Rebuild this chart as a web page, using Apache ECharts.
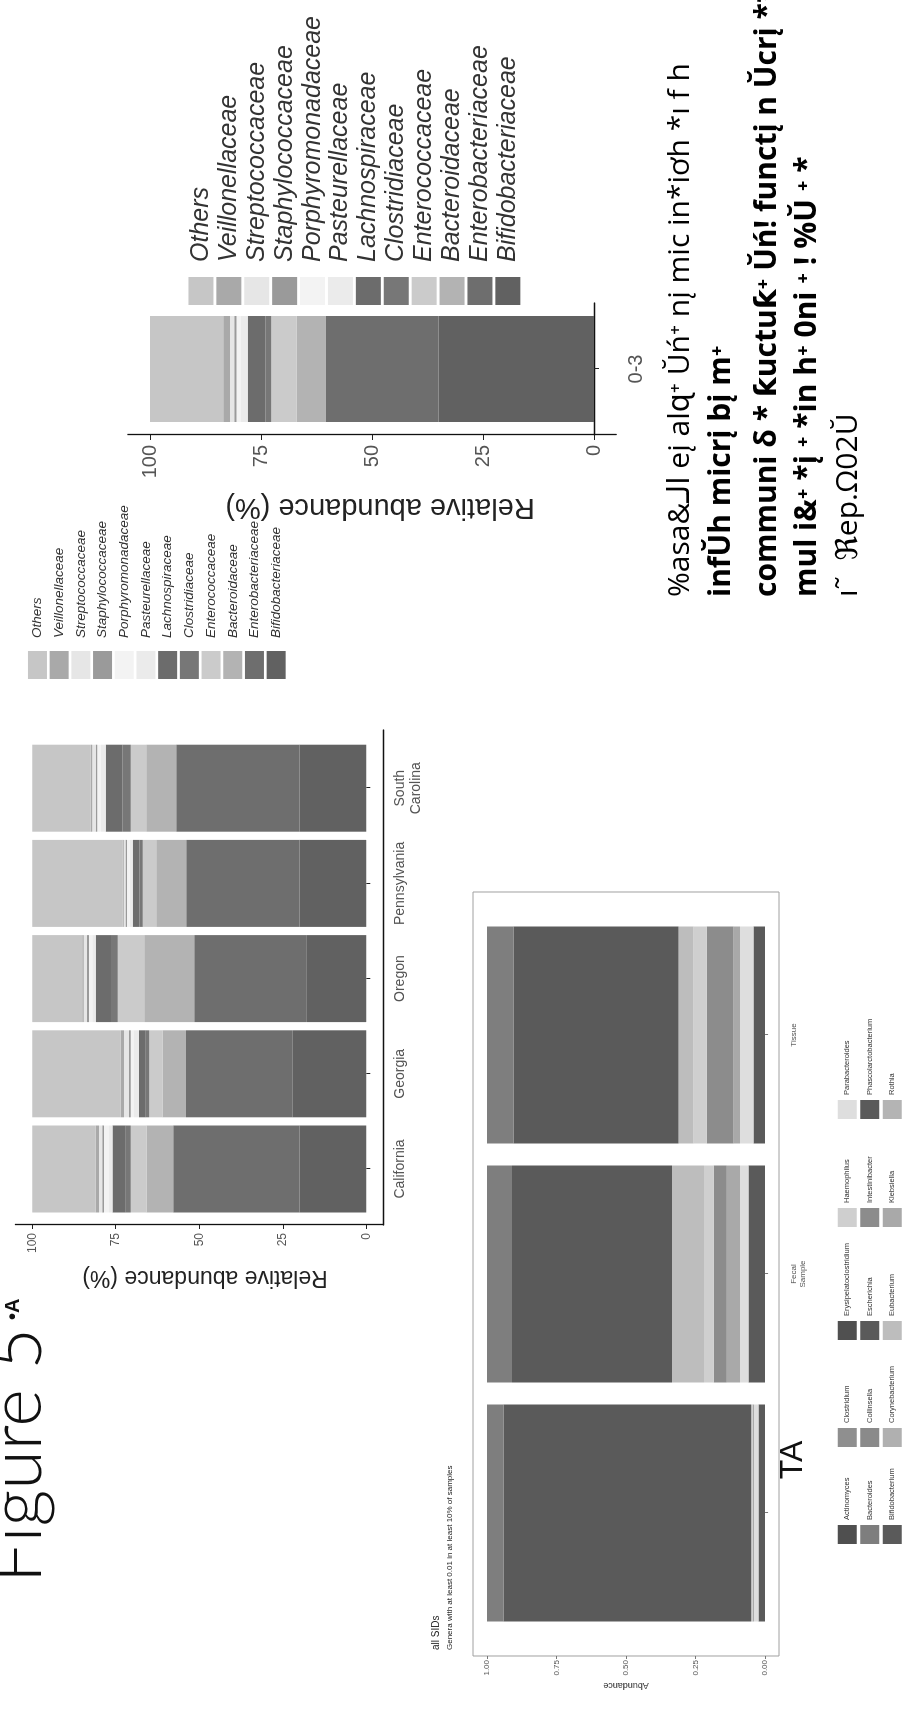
<!DOCTYPE html>
<html>
<head>
<meta charset="utf-8">
<script src="https://cdn.jsdelivr.net/npm/echarts@6/dist/echarts.min.js"></script>
<style>
html,body{margin:0;padding:0;width:904px;height:1712px;overflow:hidden;background:#fff;}
#rot{position:absolute;left:0;top:0;width:1712px;height:904px;transform-origin:0 0;transform:translate(0px,1712px) rotate(-90deg);}
#chart{width:1712px;height:904px;}
</style>
</head>
<body>
<div id="rot"><div id="chart"></div></div>
<script>
// ---------- DATA ----------
const families = ['Others','Veillonellaceae','Streptococcaceae','Staphylococcaceae','Porphyromonadaceae','Pasteurellaceae','Lachnospiraceae','Clostridiaceae','Enterococcaceae','Bacteroidaceae','Enterobacteriaceae','Bifidobacteriaceae'];
const states = ['California','Georgia','Oregon','Pennsylvania','South Carolina'];
// relative abundance (%) per family, states in order above
const othersByState             = [19, 26.5, 15, 27, 17.5];
const veillonellaceaeByState    = [1, 1, 0.4, 0.4, 0.5];
const streptococcaceaeByState   = [1, 1.5, 1, 0.5, 1];
const staphylococcaceaeByState  = [0.5, 0.5, 0.6, 0.5, 0.5];
const porphyromonadaceaeByState = [1.5, 1, 1, 0.7, 1];
const pasteurellaceaeByState    = [1, 1.5, 1, 1, 1.5];
const lachnospiraceaeByState    = [4, 2, 4.6, 2, 5];
const clostridiaceaeByState     = [1.5, 1, 2, 1, 2.5];
const enterococcaceaeByState    = [4.7, 4, 7.9, 4, 4.6];
const bacteroidaceaeByState     = [8, 7, 15, 9, 9];
const enterobacteriaceaeByState = [37.8, 32, 33.5, 33.9, 36.9];
const bifidobacteriaceaeByState = [20, 22, 18, 20, 20];

const ageGroups = ['0-3'];
// relative abundance (%) for age group 0-3, families in order above
const ageFamilyValues = [16.5, 1.5, 1, 0.5, 1, 1.5, 4, 1.3, 5.7, 6.5, 25.5, 35];
const relTicks = [0, 25, 50, 75, 100];

const sampleTypes = ['TA', 'Fecal Sample', 'Tissue'];
const genera = ['Actinomyces','Bacteroides','Bifidobacterium','Clostridium','Collinsella','Corynebacterium','Erysipelatoclostridium','Escherichia','Eubacterium','Haemophilus','Intestinibacter','Klebsiella','Parabacteroides','Phascolarctobacterium','Rothia'];
// abundance per genus, sample types in order above
const actinomyces            = [0, 0, 0];
const bacteroides            = [0.06, 0.09, 0.096];
const bifidobacterium        = [0, 0, 0];
const clostridium            = [0, 0, 0];
const collinsella            = [0, 0, 0];
const corynebacterium        = [0, 0, 0];
const erysipelatoclostridium = [0, 0, 0];
const escherichia            = [0.89, 0.575, 0.593];
const eubacterium            = [0, 0.115, 0.054];
const haemophilus            = [0.005, 0.035, 0.047];
const intestinibacter        = [0, 0.047, 0.096];
const klebsiella             = [0.005, 0.048, 0.024];
const parabacteroides        = [0.016, 0.03, 0.048];
const phascolarctobacterium  = [0.024, 0.06, 0.042];
const rothia                 = [0, 0, 0];
const abundanceTicks = [0, 0.25, 0.5, 0.75, 1];

const chartBTitle = 'all SIDs';
const chartBSubtitle = 'Genera with at least 0.01 in at least 10% of samples';
const yTitleRel = 'Relative abundance (%)';
const yTitleAbund = 'Abundance';
const figureLabel = 'Figure 5';
const figurePanel = '•A';
const noteLines = [
  '%asa&الـ eį alɋ⁺ Ŭń⁺ nį mic in*iơh *ı f h',
  'infŬh micrį bį m⁺',
  'communi δ * ƙuctuƙ⁺ Ŭń! functį n Ŭcrį **',
  'mul i&⁺ *į ⁺ *in h⁺ 0ni ⁺ ! %Ŭ ⁺ *',
  'ı˜  ℜep.Ω02Ŭ'
];

// ---------- STYLES ----------
const familyColors = ['#c6c6c6','#a9a9a9','#e6e6e6','#9a9a9a','#f3f3f3','#ebebeb','#6c6c6c','#777777','#cbcbcb','#b3b3b3','#6e6e6e','#616161'];
const genusColors = ['#4f4f4f','#7e7e7e','#5a5a5a','#8f8f8f','#8a8a8a','#b0b0b0','#505050','#5a5a5a','#bdbdbd','#cfcfcf','#8c8c8c','#a9a9a9','#dedede','#5a5a5a','#b4b4b4'];

const stateSeriesValues = [othersByState, veillonellaceaeByState, streptococcaceaeByState, staphylococcaceaeByState, porphyromonadaceaeByState, pasteurellaceaeByState, lachnospiraceaeByState, clostridiaceaeByState, enterococcaceaeByState, bacteroidaceaeByState, enterobacteriaceaeByState, bifidobacteriaceaeByState];
const genusSeriesValues = [actinomyces, bacteroides, bifidobacterium, clostridium, collinsella, corynebacterium, erysipelatoclostridium, escherichia, eubacterium, haemophilus, intestinibacter, klebsiella, parabacteroides, phascolarctobacterium, rothia];

const SANS = '"Liberation Sans", Arial, sans-serif';
const chart = echarts.init(document.getElementById('chart'), null, {renderer: 'canvas'});

const series = [];
// Chart A (states) — first factor level drawn on top, so push in reverse
for (let i = families.length - 1; i >= 0; i--) {
  series.push({type: 'bar', name: families[i], stack: 'A', xAxisIndex: 0, yAxisIndex: 0,
    barWidth: 87, itemStyle: {color: familyColors[i]}, silent: true, data: stateSeriesValues[i]});
}
// Chart C (0-3)
for (let i = families.length - 1; i >= 0; i--) {
  series.push({type: 'bar', name: families[i], stack: 'C', xAxisIndex: 1, yAxisIndex: 1,
    barWidth: 106, itemStyle: {color: familyColors[i]}, silent: true, data: [ageFamilyValues[i]]});
}
// Chart B (genera)
for (let i = genera.length - 1; i >= 0; i--) {
  series.push({type: 'bar', name: genera[i], stack: 'B', xAxisIndex: 2, yAxisIndex: 2,
    barWidth: 217, itemStyle: {color: genusColors[i]}, silent: true, data: genusSeriesValues[i]});
}

const axisLineBlack = {show: true, lineStyle: {color: '#111', width: 1.3}};
const tickBlack = {show: true, length: 4, lineStyle: {color: '#222'}};

const legendB = [];
const legendBLeft = [168, 265, 372, 485, 593];
for (let c = 0; c < 5; c++) {
  legendB.push({
    orient: 'vertical', left: legendBLeft[c], top: 836, padding: 0, itemWidth: 19, itemHeight: 19, itemGap: 0,
    icon: 'rect', selectedMode: false,
    textStyle: {fontSize: 7.5, lineHeight: 22.5, color: '#333', fontFamily: SANS},
    data: genera.slice(c * 3, c * 3 + 3)
  });
}

const hiddenAxis = (g) => ({gridIndex: g, type: 'value', min: 0, max: 1, show: false});

const option = {
  animation: false,
  textStyle: {fontFamily: SANS},
  title: [{
    text: chartBTitle, subtext: chartBSubtitle, left: 62, top: 431, padding: 0, itemGap: 5,
    textStyle: {fontSize: 10, fontWeight: 'normal', color: '#222', fontFamily: SANS},
    subtextStyle: {fontSize: 8, color: '#222', fontFamily: SANS}
  }],
  grid: [
    {left: 495.4, top: 15.5, width: 476, height: 367.5, outerBoundsMode: 'none'},
    {left: 1277, top: 127.8, width: 132, height: 488.4, outerBoundsMode: 'none'},
    {left: 79.5, top: 473, width: 717, height: 306, outerBoundsMode: 'none'},
    {left: 487, top: 15.5, width: 495, height: 367.5, outerBoundsMode: 'none'},
    {left: 56, top: 473, width: 764, height: 306, show: true, borderColor: '#a0a0a0', borderWidth: 1, outerBoundsMode: 'none'}
  ],
  xAxis: [
    {gridIndex: 0, type: 'category', data: states, axisLine: {show: false},
     axisTick: Object.assign({alignWithLabel: true}, tickBlack),
     axisLabel: {interval: 0, fontSize: 14, color: '#555', margin: 9, lineHeight: 16,
       formatter: v => v.replace('South ', 'South\n')}},
    {gridIndex: 1, type: 'category', data: ageGroups, axisLine: axisLineBlack,
     axisTick: Object.assign({alignWithLabel: true}, tickBlack, {length: 5}),
     axisLabel: {fontSize: 20, color: '#555', margin: 10}},
    {gridIndex: 2, type: 'category', data: sampleTypes, axisLine: {show: false},
     axisTick: {show: true, length: 3, alignWithLabel: true, lineStyle: {color: '#777'}},
     axisLabel: {interval: 0, fontSize: 8, lineHeight: 9, color: '#555', margin: 10,
       formatter: v => v === 'TA' ? '{big|' + v + '}' : v.replace(' ', '\n'),
       rich: {big: {fontSize: 32, color: '#111', padding: [0, 0, 0, 106], fontFamily: SANS}}}},
    {gridIndex: 3, type: 'value', min: 0, max: 1, axisLine: axisLineBlack, axisTick: {show: false},
     axisLabel: {show: false}, splitLine: {show: false}},
    hiddenAxis(4)
  ],
  yAxis: [
    {gridIndex: 0, type: 'value', min: -5, max: 105, offset: 8.4, splitLine: {show: false},
     axisLine: axisLineBlack, axisTick: Object.assign({customValues: relTicks}, tickBlack),
     axisLabel: {customValues: relTicks, fontSize: 12, color: '#555', margin: 8}},
    {gridIndex: 1, type: 'value', min: -5, max: 105, splitLine: {show: false},
     axisLine: axisLineBlack, axisTick: Object.assign({customValues: relTicks}, tickBlack, {length: 5}),
     axisLabel: {customValues: relTicks, fontSize: 20, color: '#555', margin: 10}},
    {gridIndex: 2, type: 'value', min: -0.05, max: 1.05, offset: 23.5, splitLine: {show: false},
     axisLine: {show: false}, axisTick: {show: true, length: 3, customValues: abundanceTicks, lineStyle: {color: '#777'}},
     axisLabel: {customValues: abundanceTicks, fontSize: 8, color: '#555', margin: 4, formatter: v => v.toFixed(2)}},
    hiddenAxis(3),
    hiddenAxis(4)
  ],
  legend: [
    {orient: 'vertical', left: 1033, top: 26.6, padding: 0, itemWidth: 28, itemHeight: 19, itemGap: 0, icon: 'rect', selectedMode: false,
     textStyle: {fontSize: 13.5, fontStyle: 'italic', lineHeight: 21.7, color: '#333', fontFamily: SANS, padding: [0, 0, 0, 8]},
     data: families},
    {orient: 'vertical', left: 1407, top: 187, padding: 0, itemWidth: 28, itemHeight: 25, itemGap: 0, icon: 'rect', selectedMode: false,
     textStyle: {fontSize: 25, fontStyle: 'italic', lineHeight: 27.9, color: '#333', fontFamily: SANS, padding: [0, 0, 0, 10]},
     data: families}
  ].concat(legendB),
  graphic: [
    {type: 'text', x: 435, y: 205, rotation: Math.PI / 2, silent: true,
     style: {text: yTitleRel, fontSize: 23, fill: '#222', fontFamily: SANS, align: 'center', verticalAlign: 'middle'}},
    {type: 'text', x: 1205, y: 380, rotation: Math.PI / 2, silent: true,
     style: {text: yTitleRel, fontSize: 29, fill: '#222', fontFamily: SANS, align: 'center', verticalAlign: 'middle'}},
    {type: 'text', x: 27, y: 626, rotation: Math.PI / 2, silent: true,
     style: {text: yTitleAbund, fontSize: 9, fill: '#333', fontFamily: SANS, align: 'center', verticalAlign: 'middle'}},
    {type: 'text', x: 129, y: 18, silent: true,
     style: {text: figureLabel, fontSize: 72, fontWeight: 300, fill: '#111', fontFamily: 'Lato, "Open Sans", sans-serif', align: 'left', verticalAlign: 'middle'}},
    {type: 'text', x: 392, y: 13, silent: true,
     style: {text: figurePanel, fontSize: 20, fontWeight: 'bold', fill: '#111', fontFamily: SANS, align: 'left', verticalAlign: 'middle'}}
  ].concat(noteLines.map((t, i) => ({
    type: 'text', x: 1115, y: [680, 721, 767, 807, 848][i], silent: true,
    style: {text: t, fontSize: 30, fontWeight: (i >= 1 && i <= 3) ? 'bold' : 'normal', fill: '#000',
            fontFamily: '"Open Sans", "DejaVu Sans", sans-serif', align: 'left', verticalAlign: 'middle'}
  }))),
  series: series
};
chart.setOption(option);
</script>
</body>
</html>
